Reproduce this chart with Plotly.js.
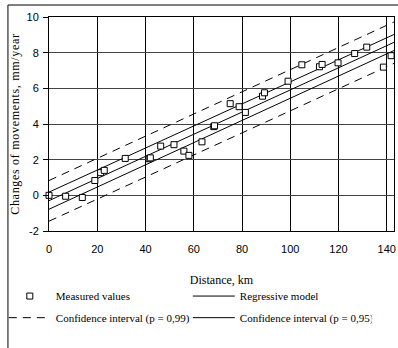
<!DOCTYPE html>
<html>
<head>
<meta charset="utf-8">
<script src="https://cdn.plot.ly/plotly-3.0.1.min.js"></script>
<style>
html,body{margin:0;padding:0;background:#fff;}
#chart{width:398px;height:348px;}
.ytitle{letter-spacing:0.7px;}
</style>
</head>
<body>
<div id="chart"></div>
<script>
// Measured values
var distanceKm = [0, 6.9, 13.8, 19, 21.4, 22.9, 31.6, 41.5, 42, 46.3, 51.8, 55.9, 58, 63.4, 68.3, 68.6, 75.1, 78.8, 81.4, 88.5, 89.3, 99.1, 104.8, 112.1, 113.2, 119.8, 126.7, 131.7, 138.6, 141.8];
var movements = [0, -0.05, -0.12, 0.83, 1.27, 1.4, 2.07, 2.05, 2.1, 2.76, 2.84, 2.48, 2.24, 3.0, 3.85, 3.9, 5.14, 4.97, 4.65, 5.56, 5.75, 6.4, 7.32, 7.21, 7.34, 7.43, 7.95, 8.31, 7.19, 7.83];
// Model lines (end points)
var lineX = [0, 143];
var regressive = [-0.3, 8.58];
var ci95Upper = [0.18, 9.02];
var ci95Lower = [-0.78, 8.12];
var ci99Upper = [0.83, 9.72];
var ci99Lower = [-1.45, 7.4];
var xTicks = [0, 20, 40, 60, 80, 100, 120, 140];
var yTicks = [-2, 0, 2, 4, 6, 8, 10];

var serif = 'Liberation Serif, Times New Roman, serif';
var sans = 'Liberation Sans, Arial, sans-serif';
var dashStyle = '8px,6px';

var traces = [
  {x: lineX, y: ci99Upper, mode: 'lines', name: 'Confidence interval (p = 0,99)', legend: 'legend2',
   line: {color: '#000', width: 1, dash: dashStyle}, legendrank: 1},
  {x: lineX, y: ci99Lower, mode: 'lines', showlegend: false,
   line: {color: '#000', width: 1, dash: dashStyle}},
  {x: lineX, y: ci95Upper, mode: 'lines', name: 'Confidence interval (p = 0,95)', legend: 'legend2',
   line: {color: '#000', width: 1}, legendrank: 2},
  {x: lineX, y: ci95Lower, mode: 'lines', showlegend: false,
   line: {color: '#000', width: 1}},
  {x: lineX, y: regressive, mode: 'lines', name: 'Regressive model', legendrank: 2,
   line: {color: '#000', width: 1}},
  {x: distanceKm, y: movements, mode: 'markers', name: 'Measured values', legendrank: 1, cliponaxis: false,
   marker: {symbol: 'square', size: 6, color: '#fff', line: {color: '#000', width: 1}}}
];

var legendBase = {
  orientation: 'h', x: -0.131, xanchor: 'left', yanchor: 'middle',
  bgcolor: 'rgba(0,0,0,0)', borderwidth: 0, itemwidth: 42,
  entrywidth: 127, entrywidthmode: 'pixels', traceorder: 'normal',
  font: {family: serif, size: 11, color: '#000'}
};

var layout = {
  width: 398, height: 348,
  margin: {l: 49, r: 4, t: 17, b: 117},
  paper_bgcolor: '#fff', plot_bgcolor: '#fff',
  showlegend: true,
  xaxis: {
    range: [0, 143], tickvals: xTicks, ticktext: xTicks.map(String),
    showgrid: true, gridcolor: '#000', gridwidth: 1,
    showline: true, mirror: true, linecolor: '#000', linewidth: 1,
    zeroline: false, ticks: '', ticklabelstandoff: 8,
    tickfont: {family: sans, size: 11, color: '#000'},
    title: {text: 'Distance, km', font: {family: serif, size: 12, color: '#000'}, standoff: 21}
  },
  yaxis: {
    range: [-2, 10], tickvals: yTicks, ticktext: yTicks.map(String),
    showgrid: true, gridcolor: '#444', gridwidth: 1,
    showline: true, mirror: true, linecolor: '#000', linewidth: 1,
    zeroline: false, ticks: 'outside', ticklen: 5, tickcolor: '#000',
    ticklabelstandoff: 2,
    tickfont: {family: sans, size: 11, color: '#000'},
    title: {text: 'Changes of movements, mm/year', font: {family: serif, size: 12, color: '#000'}, standoff: 4}
  },
  legend: Object.assign({}, legendBase, {y: -0.304}),
  legend2: Object.assign({}, legendBase, {y: -0.405}),
  shapes: [
    {type: 'rect', xref: 'paper', yref: 'paper', x0: -0.119, x1: 1.05, y0: -0.6, y1: 1.056,
     line: {color: '#000', width: 1}, fillcolor: 'rgba(0,0,0,0)', layer: 'below'}
  ]
};

Plotly.newPlot('chart', traces, layout, {staticPlot: true, displayModeBar: false});
</script>
</body>
</html>
